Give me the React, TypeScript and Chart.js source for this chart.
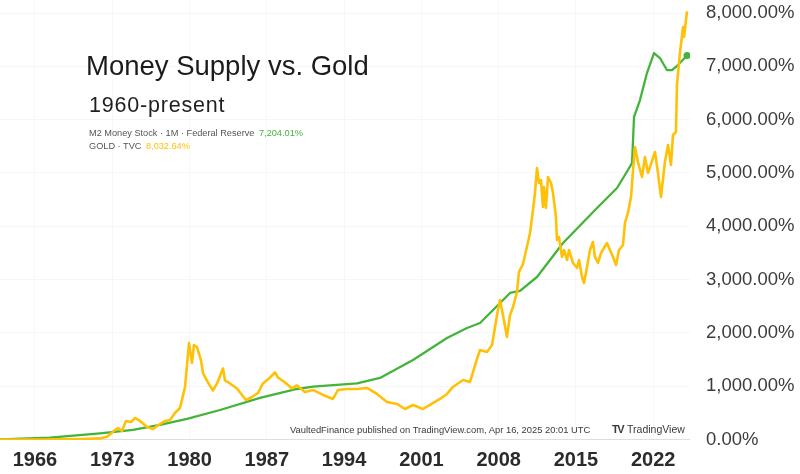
import React, { useEffect, useRef } from "react";
import { Chart, registerables } from "chart.js";

Chart.register(...registerables);

// Gold (TVC) % change since start
const goldYears = [
  1962.83, 1966.45, 1968.5, 1970.35, 1971.89, 1972.52, 1973.25, 1973.52, 1973.88, 1974.24, 1974.7,
  1975.06, 1975.51, 1976.15, 1976.69, 1977.05, 1977.78, 1978.23, 1978.68, 1979.13, 1979.59,
  1979.95, 1980.22, 1980.4, 1980.67, 1981.04, 1981.22, 1981.67, 1982.12, 1982.49, 1982.85,
  1983.03, 1983.21, 1983.66, 1984.3, 1984.75, 1985.11, 1985.66, 1986.2, 1986.65, 1987.29,
  1987.74, 1988.01, 1988.65, 1989.28, 1989.73, 1990.46, 1991.18, 1992.09, 1992.99, 1993.45,
  1994.26, 1995.17, 1996.07, 1996.98, 1997.88, 1998.79, 1999.51, 2000.24, 2001.14, 2001.78,
  2002.68, 2003.32, 2003.86, 2004.77, 2005.4, 2006.04, 2006.31, 2006.94, 2007.4, 2007.85,
  2008.12, 2008.39, 2008.75, 2009.03, 2009.3, 2009.66, 2009.84, 2010.2, 2010.66, 2010.84,
  2011.11, 2011.29, 2011.47, 2011.65, 2011.83, 2012.01, 2012.1, 2012.28, 2012.47, 2012.74,
  2012.92, 2013.19, 2013.28, 2013.46, 2013.74, 2013.92, 2014.19, 2014.37, 2014.73, 2015.1,
  2015.28, 2015.55, 2015.73, 2016.0, 2016.27, 2016.54, 2016.72, 2017.0, 2017.27, 2017.54,
  2017.81, 2018.08, 2018.36, 2018.63, 2018.9, 2019.26, 2019.44, 2019.71, 2019.99, 2020.17,
  2020.35, 2020.62, 2020.98, 2021.25, 2021.53, 2022.16, 2022.43, 2022.7, 2023.06, 2023.34,
  2023.61, 2023.79, 2024.06, 2024.15, 2024.43, 2024.7, 2024.79, 2025.06,
];
const goldValues = [
  0, 0, 5, 10, 20, 53, 178, 216, 159, 347, 328,
  403, 347, 234, 197, 253, 347, 366, 497, 591, 985,
  1810, 1435, 1773, 1735, 1482, 1238, 1069, 919, 1051, 1238,
  1332, 1107, 1051, 957, 835, 741, 797, 872, 1051, 1163,
  1257, 1163, 1069, 957, 1013, 891, 929, 835, 760, 929,
  947, 947, 966, 854, 704, 666, 572, 647, 572, 647,
  760, 854, 985, 1116, 1079, 1510, 1679, 1641, 1773, 2336,
  2617, 2336, 1924, 2336, 2486, 2767, 3142, 3292, 3705, 3874,
  4306, 4624, 5094, 4812, 4868, 4362, 4737, 4343, 4925, 4812,
  4624, 4174, 3743, 3799, 3424, 3555, 3367, 3555, 3311, 3217,
  3367, 3048, 2936, 3236, 3555, 3705, 3424, 3311, 3499, 3592,
  3686, 3555, 3424, 3274, 3555, 3649, 4062, 4249, 4549, 5056,
  5487, 5206, 4925, 5300, 5000, 5394, 5000, 4549, 5206, 5525,
  5150, 5713, 5769, 6651, 7270, 7739, 7552, 8032.64,
];

// M2 Money Stock (Federal Reserve) % change since start
const m2Years = [
  1962.83, 1967.36, 1971.89, 1974.88, 1977.32, 1979.77, 1982.76, 1986.38, 1989.73, 1991.18,
  1995.17, 1997.25, 2000.24, 2003.32, 2005.13, 2006.31, 2007.49, 2009.03, 2009.93, 2011.47,
  2013.83, 2016.91, 2018.72, 2019.71, 2020.08, 2020.26, 2020.8, 2021.43, 2022.07, 2022.61,
  2023.24, 2023.7, 2024.24, 2025.06,
];
const m2Values = [
  0, 34, 116, 178, 272, 385, 553, 779, 947, 991,
  1054, 1154, 1492, 1905, 2092, 2186, 2429, 2748, 2786, 3048,
  3686, 4343, 4718, 5056, 5187, 6050, 6368, 6875, 7250, 7156,
  6931, 6931, 7025, 7204.01,
];

const xTickYears = [1966, 1973, 1980, 1987, 1994, 2001, 2008, 2015, 2022];
const yTickValues = [0, 1000, 2000, 3000, 4000, 5000, 6000, 7000, 8000];

const GREEN = "#43b43a";
const GOLD = "#ffc107";

const fmtPct = (v: number) =>
  v.toLocaleString("en-US", { minimumFractionDigits: 2, maximumFractionDigits: 2 }) + "%";

export default function App() {
  const canvasRef = useRef<HTMLCanvasElement | null>(null);

  useEffect(() => {
    document.body.style.margin = "0";
    const canvas = canvasRef.current;
    if (!canvas) return;
    const goldData = goldYears.map((x, i) => ({ x, y: goldValues[i] }));
    const m2Data = m2Years.map((x, i) => ({ x, y: m2Values[i] }));
    const lastM2 = m2Data.length - 1;

    const chart = new Chart(canvas, {
      type: "line",
      data: {
        datasets: [
          {
            label: "GOLD · TVC",
            data: goldData,
            borderColor: GOLD,
            borderWidth: 2.6,
            pointRadius: 0,
            tension: 0,
            borderJoinStyle: "round",
          },
          {
            label: "M2 Money Stock · 1M · Federal Reserve",
            data: m2Data,
            borderColor: GREEN,
            backgroundColor: GREEN,
            borderWidth: 2.3,
            pointRadius: (ctx: any) => (ctx.dataIndex === lastM2 ? 3.5 : 0),
            pointBorderWidth: 0,
            tension: 0,
            borderJoinStyle: "round",
          },
        ],
      },
      options: {
        responsive: false,
        animation: false,
        layout: { padding: 0, autoPadding: false },
        plugins: { legend: { display: false }, tooltip: { enabled: false } },
        scales: {
          x: {
            type: "linear",
            min: 1962.83,
            max: 2025.33,
            border: { display: false },
            grid: { color: "rgba(0,0,0,0.03)", drawTicks: false },
            afterBuildTicks: (scale: any) => {
              scale.ticks = xTickYears.map((v) => ({ value: v }));
            },
            afterFit: (scale: any) => {
              scale.height = 34;
              scale.paddingLeft = 0;
              scale.paddingRight = 0;
            },
            ticks: {
              autoSkip: false,
              maxRotation: 0,
              padding: 8,
              color: "#2b2b2b",
              font: { family: "'Liberation Sans', Arial, sans-serif", size: 20, weight: "bold" },
              callback: (v: any) => String(v),
            },
          },
          y: {
            type: "linear",
            position: "right",
            min: -10,
            max: 8245,
            border: { display: false },
            grid: {
              drawTicks: false,
              color: (ctx: any) => (ctx.tick && ctx.tick.value === 0 ? "#dedede" : "rgba(0,0,0,0.03)"),
            },
            afterBuildTicks: (scale: any) => {
              scale.ticks = yTickValues.map((v) => ({ value: v }));
            },
            afterFit: (scale: any) => {
              scale.width = 110;
              scale.paddingTop = 0;
              scale.paddingBottom = 0;
            },
            ticks: {
              padding: 16,
              color: "#3c3c3c",
              font: { family: "'Liberation Sans', Arial, sans-serif", size: 18.5 },
              callback: (v: any) => fmtPct(Number(v)),
            },
          },
        },
      },
    });
    return () => chart.destroy();
  }, []);

  const sans = "'Liberation Sans', Arial, sans-serif";
  return (
    <div style={{ position: "relative", width: 800, height: 474, background: "#fff", overflow: "hidden" }}>
      <canvas ref={canvasRef} width={800} height={474} style={{ display: "block" }} />
      <div style={{ position: "absolute", left: 86, top: 49, fontFamily: sans, fontSize: 27.5, color: "#1b1b1b", whiteSpace: "nowrap", lineHeight: "34px" }}>
        Money Supply vs. Gold
      </div>
      <div style={{ position: "absolute", left: 89, top: 92, fontFamily: sans, fontSize: 21.5, color: "#1f1f1f", whiteSpace: "nowrap", lineHeight: "26px", letterSpacing: 0.8 }}>
        1960-present
      </div>
      <div style={{ position: "absolute", left: 89, top: 127, fontFamily: sans, fontSize: 9.2, color: "#555", whiteSpace: "nowrap", lineHeight: "12px" }}>
        M2 Money Stock · 1M · Federal Reserve <span style={{ color: GREEN, marginLeft: 2 }}>7,204.01%</span>
      </div>
      <div style={{ position: "absolute", left: 89, top: 140, fontFamily: sans, fontSize: 9.2, color: "#555", whiteSpace: "nowrap", lineHeight: "12px" }}>
        GOLD · TVC <span style={{ color: GOLD, marginLeft: 2 }}>8,032.64%</span>
      </div>
      <div style={{ position: "absolute", left: 290, top: 424, fontFamily: sans, fontSize: 9.4, color: "#3a3a3a", whiteSpace: "nowrap", lineHeight: "12px" }}>
        VaultedFinance published on TradingView.com, Apr 16, 2025 20:01 UTC
      </div>
      <div style={{ position: "absolute", left: 612, top: 423, fontFamily: sans, fontSize: 10.5, color: "#3a3a3a", whiteSpace: "nowrap", lineHeight: "13px" }}>
        <span style={{ fontWeight: "bold", fontSize: 11, letterSpacing: -1.5, marginRight: 4 }}>TV</span>TradingView
      </div>
    </div>
  );
}
